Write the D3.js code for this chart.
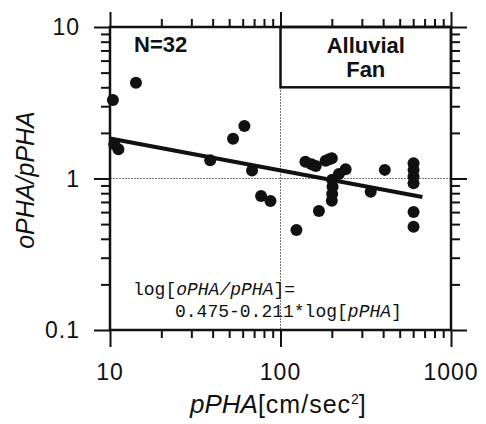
<!DOCTYPE html>
<html>
<head>
<meta charset="utf-8">
<script src="https://cdn.jsdelivr.net/npm/d3@7"></script>
<style>
  body { margin: 0; background: #fff; }
  text { fill: #111; }
</style>
</head>
<body>
<svg id="svg_plot" width="486" height="424"></svg>
<script>

// Data (pPHA in cm/sec^2, ratio oPHA/pPHA)
const pPHA = [10.4, 10.6, 11.2, 14.2, 38.7, 52.7, 61.4, 68.1, 76.9, 87.3,
    124, 140, 152, 161, 168, 184, 193, 200, 201, 202,
    201, 200, 220, 241, 338, 409, 603, 603, 603, 603, 603, 603];
const ratio = [3.3, 1.68, 1.56, 4.29, 1.32, 1.83, 2.22, 1.13, 0.766, 0.71,
    0.457, 1.29, 1.24, 1.21, 0.61, 1.31, 1.34, 1.36, 0.98, 0.883,
    0.79, 0.714, 1.07, 1.15, 0.818, 1.14, 1.26, 1.14, 1.03, 0.93, 0.60, 0.48];

// regression: log[oPHA/pPHA] = a + b*log[pPHA]
const fit_a = 0.475,
    fit_b = -0.211,
    fit_range = [10, 680];

const x_major = [10, 100, 1000],
    y_major = [0.1, 1, 10];
const x_minor = [20, 30, 40, 50, 60, 70, 80, 90, 200, 300, 400, 500, 600, 700, 800, 900],
    y_minor = [0.2, 0.3, 0.4, 0.5, 0.6, 0.7, 0.8, 0.9, 2, 3, 4, 5, 6, 7, 8, 9];

const svg = d3.select("#svg_plot");
const ink = "#111";

const plot_left = 110, plot_right = 451, plot_top = 27, plot_bottom = 330;

const x_scale = d3.scaleLog().domain([10, 1000]).range([plot_left, plot_right]);
const y_scale = d3.scaleLog().domain([0.1, 10]).range([plot_bottom, plot_top]);

// grid lines at 100 and 1
svg.append("line")
    .attr("x1", x_scale(100)).attr("x2", x_scale(100))
    .attr("y1", plot_top).attr("y2", plot_bottom)
    .attr("stroke", "#777").attr("stroke-width", 1).attr("stroke-dasharray", "2,1");
svg.append("line")
    .attr("x1", plot_left).attr("x2", plot_right)
    .attr("y1", y_scale(1)).attr("y2", y_scale(1))
    .attr("stroke", "#777").attr("stroke-width", 1).attr("stroke-dasharray", "2,1");

// "Alluvial Fan" box
svg.append("rect")
    .attr("x", x_scale(100)).attr("y", y_scale(10))
    .attr("width", x_scale(1000) - x_scale(100))
    .attr("height", y_scale(4) - y_scale(10))
    .attr("fill", "none").attr("stroke", ink).attr("stroke-width", 2.5);

const box_cx = (x_scale(100) + x_scale(1000)) / 2;
svg.append("text")
    .attr("x", box_cx).attr("y", 53)
    .attr("text-anchor", "middle")
    .style("font", "bold 22px 'Liberation Sans', Arial, sans-serif")
    .text("Alluvial");
svg.append("text")
    .attr("x", box_cx).attr("y", 77)
    .attr("text-anchor", "middle")
    .style("font", "bold 22px 'Liberation Sans', Arial, sans-serif")
    .text("Fan");

svg.append("text")
    .attr("x", 134).attr("y", 52)
    .style("font", "bold 22px 'Liberation Sans', Arial, sans-serif")
    .text("N=32");

// axes: major + minor ticks on all four sides
function draw_axis(axis_fn, scale, values, size, transform) {
    const g = svg.append("g")
        .attr("transform", transform)
        .call(axis_fn(scale).tickValues(values).tickSize(size).tickFormat(""));
    g.select(".domain").remove();
    g.selectAll(".tick line").attr("stroke", ink).attr("stroke-width", 2);
}

draw_axis(d3.axisBottom, x_scale, x_major, 17, `translate(0,${plot_bottom})`);
draw_axis(d3.axisBottom, x_scale, x_minor, 8, `translate(0,${plot_bottom})`);
draw_axis(d3.axisTop, x_scale, x_major, 15, `translate(0,${plot_top})`);
draw_axis(d3.axisTop, x_scale, x_minor, 8, `translate(0,${plot_top})`);
draw_axis(d3.axisLeft, y_scale, y_major, 16, `translate(${plot_left},0)`);
draw_axis(d3.axisLeft, y_scale, y_minor, 9, `translate(${plot_left},0)`);
draw_axis(d3.axisRight, y_scale, y_major, 16, `translate(${plot_right},0)`);
draw_axis(d3.axisRight, y_scale, y_minor, 9, `translate(${plot_right},0)`);

// frame
svg.append("rect")
    .attr("x", plot_left).attr("y", plot_top)
    .attr("width", plot_right - plot_left).attr("height", plot_bottom - plot_top)
    .attr("fill", "none").attr("stroke", ink).attr("stroke-width", 2.5);

// tick labels
svg.append("g").selectAll("text")
    .data(x_major)
    .enter().append("text")
    .attr("x", d => x_scale(d))
    .attr("y", 380)
    .attr("text-anchor", "middle")
    .style("font", "23px 'Liberation Sans', Arial, sans-serif")
    .style("letter-spacing", "1px")
    .text(d => d3.format("d")(d));

svg.append("g").selectAll("text")
    .data(y_major)
    .enter().append("text")
    .attr("x", 80)
    .attr("y", d => y_scale(d) + 8)
    .attr("text-anchor", "end")
    .style("font", "23px 'Liberation Sans', Arial, sans-serif")
    .style("letter-spacing", "1px")
    .text(d => d < 1 ? d3.format(".1f")(d) : d3.format("d")(d));

// regression line
const fit_line = d3.line()
    .x(d => x_scale(d))
    .y(d => y_scale(Math.pow(10, fit_a + fit_b * Math.log10(d))));

svg.append("path")
    .datum(fit_range)
    .attr("d", fit_line)
    .attr("fill", "none")
    .attr("stroke", ink)
    .attr("stroke-width", 4);

// points
svg.append("g").selectAll("circle")
    .data(pPHA)
    .enter().append("circle")
    .attr("cx", d => x_scale(d))
    .attr("cy", (d, i) => y_scale(ratio[i]))
    .attr("r", 6)
    .attr("fill", ink);

// equation
const mono = "18px 'Liberation Mono', 'DejaVu Sans Mono', monospace";
const eq1 = svg.append("text").attr("x", 133).attr("y", 295).style("font", mono);
eq1.append("tspan").text("log[");
eq1.append("tspan").style("font-style", "italic").text("oPHA/pPHA");
eq1.append("tspan").text("]=");

const eq2 = svg.append("text").attr("x", 175).attr("y", 317).style("font", mono);
eq2.append("tspan").text("0.475-0.211*log[");
eq2.append("tspan").style("font-style", "italic").text("pPHA");
eq2.append("tspan").text("]");

// axis titles
svg.append("text")
    .attr("transform", "translate(34,180) rotate(-90)")
    .attr("text-anchor", "middle")
    .style("font", "italic 25px 'Liberation Sans', Arial, sans-serif")
    .text("oPHA/pPHA");

const xt = svg.append("text")
    .attr("x", 190).attr("y", 413)
    .style("font", "25px 'Liberation Sans', Arial, sans-serif");
xt.append("tspan").style("font-style", "italic").style("font-size", "26px").text("pPHA");
xt.append("tspan").style("letter-spacing", "1px").text("[cm/sec");
xt.append("tspan").attr("dy", -9).style("font-size", "14px").text("2");
xt.append("tspan").attr("dy", 9).text("]");

</script>
</body>
</html>
